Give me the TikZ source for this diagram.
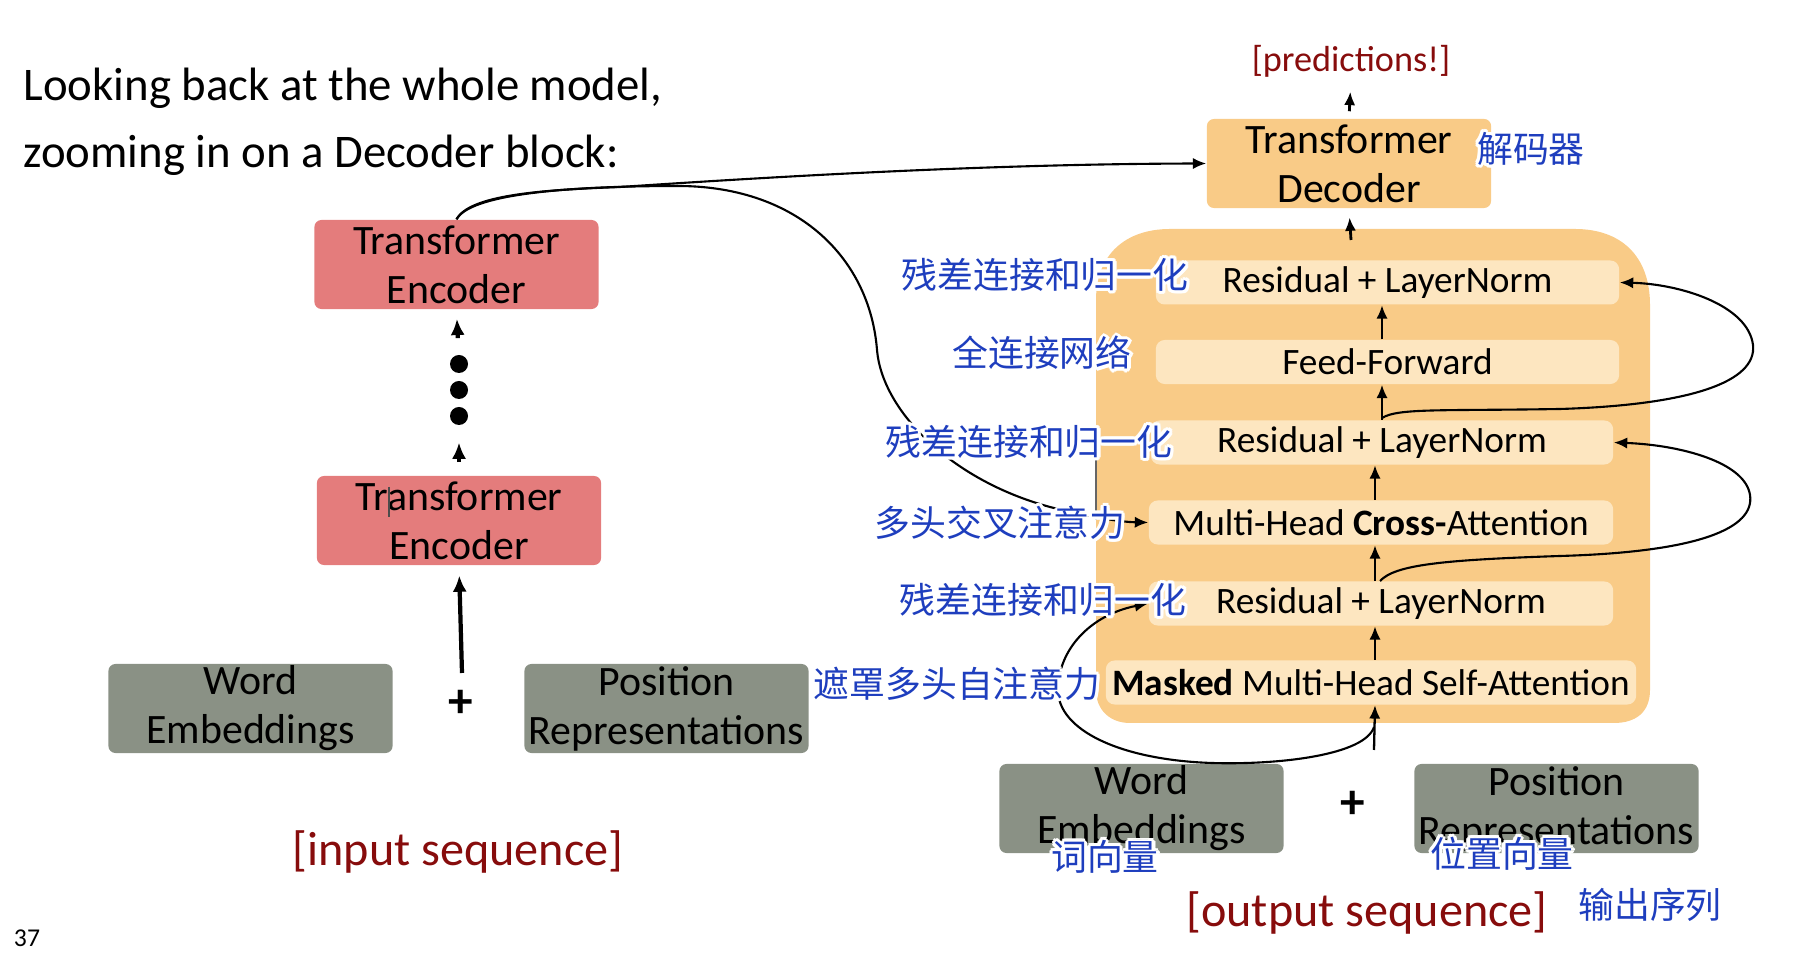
\documentclass[tikz,border=0pt]{standalone}
\usepackage{fontspec}
\setmainfont{Carlito}
\newfontfamily\cjk{Noto Sans CJK SC}
\usetikzlibrary{arrows.meta,calc}
\definecolor{encred}{RGB}{228,124,124}
\definecolor{embgray}{RGB}{138,145,133}
\definecolor{decor}{RGB}{249,203,135}
\definecolor{innerc}{RGB}{253,230,192}
\definecolor{dred}{RGB}{135,12,12}
\definecolor{cnblue}{RGB}{30,62,190}
\newcommand\boxfnt{\fontsize{11.9}{13.9}\selectfont}
\newcommand\decfnt{\fontsize{10.6}{12}\selectfont}
\newcommand\cnlab[3]{%
  \foreach \a in {0,30,...,330}{\node[cn,text=white] at ([shift={(\a:3.2)}]#2) {#3};}
  \node[cn] (#1) at (#2) {#3};}
\tikzset{
  bigbox/.style={rounded corners=2pt, inner sep=0pt, align=center, font=\boxfnt,
                 minimum width=2.84cm, minimum height=0.89cm},
  enc/.style={bigbox, fill=encred},
  emb/.style={bigbox, fill=embgray},
  dec/.style={bigbox, fill=decor},
  layer/.style={fill=innerc, rounded corners=2.5pt, inner sep=0pt, font=\decfnt,
                minimum height=0.44cm},
  cn/.style={font=\cjk\fontsize{10.2}{12}\selectfont, text=cnblue, inner sep=0pt},
  seq/.style={font=\fontsize{13.7}{16}\selectfont, text=dred, inner sep=0pt},
  titletext/.style={font=\fontsize{13.3}{16}\selectfont, inner sep=0pt, anchor=base west},
  dot/.style={circle, fill=black, minimum size=0.18cm, inner sep=0pt},
  arrL/.style={-{Latex[length=4.6pt,width=4pt]}, line width=1.2pt},
  arr/.style={-{Latex[length=3.8pt,width=3.2pt]}, line width=0.65pt},
  curve/.style={line width=0.6pt},
  curvearr/.style={curve, -{Latex[length=3.8pt,width=3.2pt]}},
}
\begin{document}
\begin{tikzpicture}[x=0.01cm,y=-0.01cm]
\useasboundingbox (0,0) rectangle (1794,962);

% ---- title ----
\node[titletext] (t1) at (23,101) {Looking back at the whole model,};
\node[titletext] (t2) at (23,168) {zooming in on a Decoder block:};
\node[inner sep=0pt, font=\fontsize{7.3}{9}\selectfont] (pg) at (27,938) {37};

% ---- encoder side ----
\node[enc] (enc1) at (456.5,264.5) {Transformer\\Encoder};
\node[enc] (enc2) at (459,520.5) {Transformer\\Encoder};
\draw[line width=0.4pt, draw=black!70] (389,487) -- (389,517);
\node[dot] (d1) at (459,364) {};
\node[dot] (d2) at (459,390) {};
\node[dot] (d3) at (459,416) {};
\draw[arrL, shorten <=4.6pt, shorten >=2.6pt] (d1) -- (enc1.south);
\draw[arrL, shorten <=3.7pt, shorten >=4.8pt] (enc2.north) -- (d3);
\node[emb] (we1) at (250.5,708.5) {Word\\Embeddings};
\node[emb] (pr1) at (666.5,708.5) {Position\\Representations};
\node[inner sep=0pt, font=\fontsize{14}{15}\selectfont\bfseries] (plus1) at (461,704) {+};
\coordinate (inL) at (462,673);
\draw[arrL, shorten >=2.8pt] (inL) -- (enc2.south);
\node[seq] (inseq) at (458,852) {[input sequence]};

% ---- decoder block ----
\fill[decor] (1096,690) -- (1096,300) .. controls (1096,255) and (1125,229) .. (1170,229)
   -- (1575,229) .. controls (1620,229) and (1650,255) .. (1650,305) -- (1650,690)
   .. controls (1650,712) and (1636,723) .. (1614,723) -- (1130,723)
   .. controls (1110,723) and (1096,710) .. cycle;
\coordinate (btop) at (1351,240);
\draw[line width=0.4pt, draw=black!60] (1096,455) -- (1096,520);

\node[layer, minimum width=4.63cm] (rl1) at (1387.5,282.5) {Residual + LayerNorm};
\node[layer, minimum width=4.63cm] (ff)  at (1387.5,362) {Feed-Forward};
\node[layer, minimum width=4.62cm] (rl2) at (1382,442.5) {Residual + LayerNorm};
\node[layer, minimum width=4.64cm] (ca)  at (1381,522.5) {Multi-Head \textbf{Cross-}Attention};
\node[layer, minimum width=4.64cm] (rl3) at (1381,603.5) {Residual + LayerNorm};
\node[layer, minimum width=5.30cm] (msa) at (1371,682.5) {\textbf{Masked} Multi-Head Self-Attention};

\coordinate (xa) at (1382,0);
\coordinate (xb) at (1375,0);
\draw[arr] (xa |- ff.north) -- (xa |- rl1.south);
\draw[arr] (xa |- rl2.north) -- (xa |- ff.south);
\draw[arr] (xb |- rl3.north) -- (xb |- ca.south);
\draw[arr] (xb |- ca.north) -- (xb |- rl2.south);
\draw[arr] (xb |- msa.north) -- (xb |- rl3.south);

% decoder top
\node[dec] (dec) at (1349,163.5) {Transformer\\Decoder};
\draw[arr, line width=0.8pt, shorten >=2.5pt] (btop) -- (dec.south);
\node[inner sep=0pt, text=dred, font=\fontsize{10.3}{12}\selectfont] (pred) at (1351,61) {[predictions!]};
\draw[arr, line width=0.8pt, shorten <=2pt, shorten >=4pt] (dec.north) -- (pred.south);

% decoder input embeddings
\node[emb] (we2) at (1141.5,808.5) {Word\\Embeddings};
\node[emb] (pr2) at (1556.5,808.5) {Position\\Representations};
\node[inner sep=0pt, font=\fontsize{14}{15}\selectfont\bfseries] (plus2) at (1353,805) {+};
\coordinate (inR) at (1374,750);
\draw[arr] (inR) -- (xb |- msa.south);
\node[seq] (outseq) at (1367,913) {[output sequence]};

% residual loops
\coordinate (ra) at (1382,418);
\draw[curvearr] (ra) .. controls (1398,408) and (1440,411) .. (1560,409)
   .. controls (1690,405) and (1757,382) .. (1753,345)
   .. controls (1748,305) and (1680,284) .. (rl1.east);
\coordinate (rb) at (1380,581);
\draw[curvearr] (rb) .. controls (1395,565) and (1440,560) .. (1560,556)
   .. controls (1700,552) and (1755,528) .. (1750,495)
   .. controls (1745,462) and (1680,445) .. (rl2.east);
\coordinate (rc) at (1374,727);
\draw[curvearr] (rc) .. controls (1365,755) and (1280,765) .. (1212,763)
   .. controls (1120,760) and (1058,730) .. (1058,690)
   .. controls (1058,650) and (1090,615) .. (rl3.west);

% encoder output connections
\draw[curvearr] (enc1.north) .. controls (470,195) and (540,190) .. (620,187)
   .. controls (800,175) and (1000,164) .. (dec.west);
\draw[curvearr] (enc1.north) .. controls (470,195) and (560,186) .. (680,186)
   .. controls (800,187) and (870,260) .. (877,350)
   .. controls (882,410) and (950,480) .. (1050,507)
   .. controls (1090,517) and (1120,522) .. (ca.west);

% chinese labels
\cnlab{l1}{1045,275}{残差连接和归一化}
\cnlab{l2}{1042,353}{全连接网络}
\cnlab{l3}{1029,442}{残差连接和归一化}
\cnlab{l4}{1000,523}{多头交叉注意力}
\cnlab{l5}{1043,600}{残差连接和归一化}
\cnlab{l6}{957,684}{遮罩多头自注意力}
\cnlab{l7}{1531,149}{解码器}
\cnlab{l8}{1105,857}{词向量}
\cnlab{l9}{1502,854}{位置向量}
\cnlab{l10}{1650,905}{输出序列}
\end{tikzpicture}
\end{document}
